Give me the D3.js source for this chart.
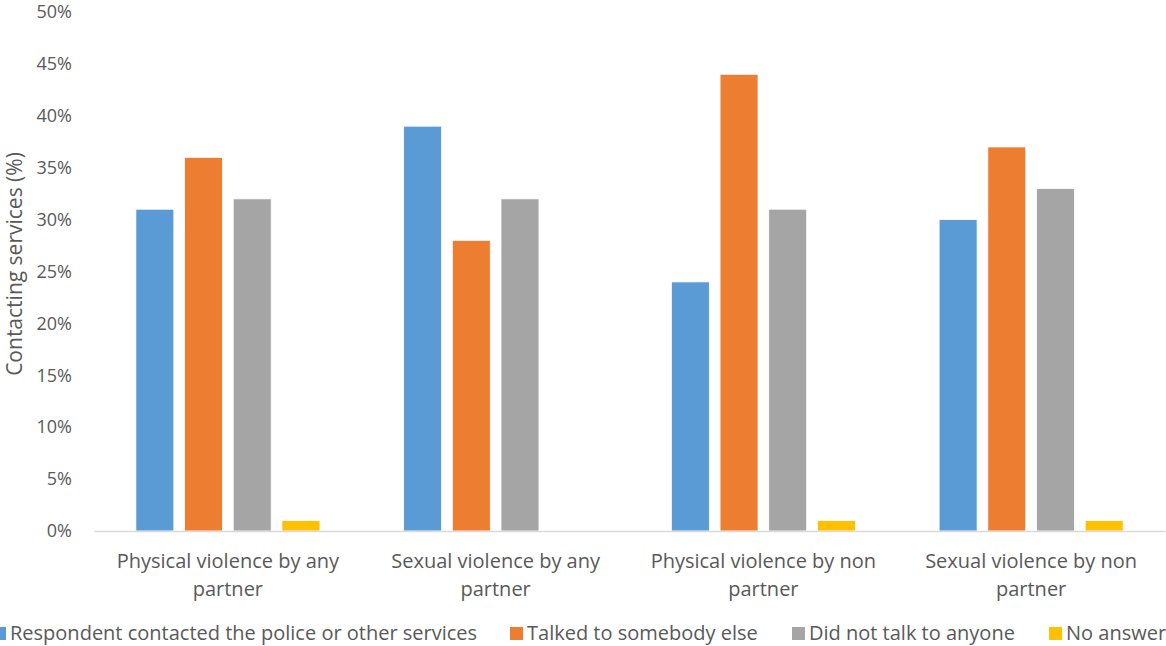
<!DOCTYPE html>
<html>
<head>
<meta charset="utf-8">
<script src="https://cdn.jsdelivr.net/npm/d3@7"></script>
<style>
  html, body { margin: 0; padding: 0; background: #fff; }
  svg { display: block; font-family: "Open Sans", Lato, sans-serif; }
</style>
</head>
<body>
<svg id="chart" width="1166" height="646"></svg>
<script>
const categories = [
  "Physical violence by any partner",
  "Sexual violence by any partner",
  "Physical violence by non partner",
  "Sexual violence by non partner"
];
const seriesNames = [
  "Respondent contacted the police or other services",
  "Talked to somebody else",
  "Did not talk to anyone",
  "No answer"
];
const contactedPolice = [31, 39, 24, 30];
const talkedSomebody = [36, 28, 44, 37];
const didNotTalk = [32, 32, 31, 33];
const noAnswer = [1, 0, 1, 1];
const yTicks = [0, 5, 10, 15, 20, 25, 30, 35, 40, 45, 50];
const colors = ["#5B9BD5", "#ED7D31", "#A5A5A5", "#FFC000"];

const seriesValues = [contactedPolice, talkedSomebody, didNotTalk, noAnswer];

const svg = d3.select("#chart");
const plotLeft = 94, plotRight = 1165, plotTop = 12, plotBottom = 531;
const textColor = "#595959";
const fontFam = "'Open Sans', Lato, sans-serif";

const y = d3.scaleLinear().domain([0, 50]).range([plotBottom, plotTop]);
const x0 = d3.scaleBand().domain(categories).range([plotLeft, plotRight]).padding(0);
const x1 = d3.scaleBand().domain(seriesNames).range([0, x0.bandwidth()])
  .paddingInner(0.22).paddingOuter(0.86);

// y axis tick labels
const yAxis = d3.axisLeft(y).tickValues(yTicks).tickFormat(d => d + "%").tickSize(0).tickPadding(0);
const yg = svg.append("g").attr("transform", `translate(72,0)`).call(yAxis);
yg.select(".domain").remove();
yg.selectAll("text").attr("fill", textColor).attr("font-size", 18).attr("font-family", fontFam);

// bars
const groups = svg.append("g").selectAll("g")
  .data(categories)
  .join("g")
  .attr("transform", d => `translate(${x0(d)},0)`);

groups.selectAll("rect")
  .data((d, i) => seriesNames.map((s, j) => ({ s, v: seriesValues[j][i], c: colors[j] })))
  .join("rect")
  .attr("x", d => x1(d.s))
  .attr("width", x1.bandwidth())
  .attr("y", d => y(d.v))
  .attr("height", d => plotBottom - y(d.v))
  .attr("fill", d => d.c)
  .attr("stroke", "#fff")
  .attr("stroke-width", 0.8);

// x axis
const xAxis = d3.axisBottom(x0).tickSize(0).tickPadding(0);
const xg = svg.append("g").attr("transform", `translate(0,${plotBottom})`).call(xAxis);
xg.select(".domain").attr("stroke", "#D9D9D9").attr("stroke-width", 1.5);
xg.selectAll(".tick text").attr("fill", textColor).attr("font-size", 20)
  .attr("font-family", fontFam)
  .each(function(d) {
    const t = d3.select(this);
    const words = d.split(" ");
    const lines = [];
    let cur = [];
    t.text(null);
    const probe = t.append("tspan");
    words.forEach(w => {
      const test = cur.concat([w]).join(" ");
      probe.text(test);
      if (probe.node().getComputedTextLength() > 250 && cur.length) {
        lines.push(cur.join(" "));
        cur = [w];
      } else cur.push(w);
    });
    lines.push(cur.join(" "));
    probe.remove();
    t.attr("dy", null);
    lines.forEach((ln, i) => {
      t.append("tspan").attr("x", 0).attr("y", 37 + i * 28).text(ln);
    });
  });

// y axis title
svg.append("text")
  .attr("transform", `translate(22,264) rotate(-90)`)
  .attr("text-anchor", "middle")
  .attr("fill", textColor)
  .attr("font-size", 21)
  .attr("font-family", fontFam)
  .text("Contacting services (%)");

// legend
const legendX = [-7, 510, 792, 1049];
const lg = svg.append("g").selectAll("g").data(seriesNames).join("g")
  .attr("transform", (d, i) => `translate(${legendX[i]},627)`);
lg.append("rect").attr("width", 13).attr("height", 13).attr("fill", (d, i) => colors[i]);
lg.append("text").attr("x", 17).attr("y", 13).attr("fill", textColor)
  .attr("font-size", 20).attr("font-family", fontFam).text(d => d);
</script>
</body>
</html>
